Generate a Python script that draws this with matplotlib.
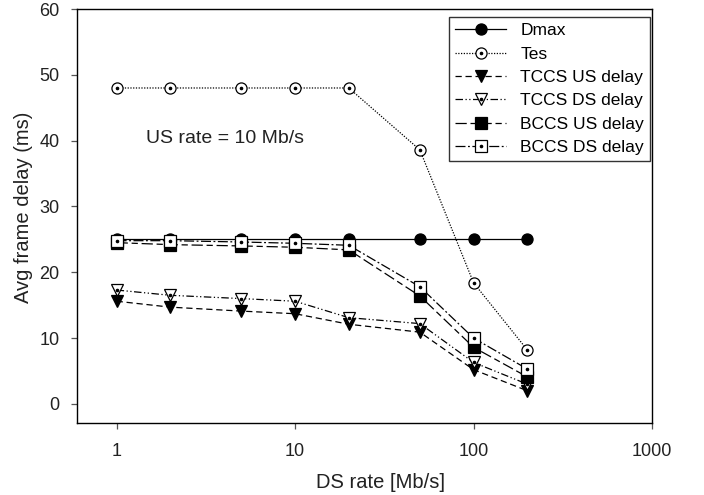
import matplotlib
matplotlib.use("Agg")
import matplotlib.pyplot as plt
from matplotlib.lines import Line2D
from matplotlib.legend_handler import HandlerTuple

ds_rate = [1, 2, 5, 10, 20, 50, 100, 200]
dmax = [25, 25, 25, 25, 25, 25, 25, 25]
tes = [48, 48, 48, 48, 48, 38.6, 18.4, 8.2]
tccs_us = [15.6, 14.7, 14.1, 13.7, 12.1, 10.9, 5.2, 2.0]
tccs_ds = [17.3, 16.5, 16.0, 15.6, 13.1, 12.2, 6.3, 3.0]
bccs_us = [24.5, 24.2, 24.0, 23.8, 23.4, 16.4, 8.6, 4.1]
bccs_ds = [24.8, 24.8, 24.6, 24.4, 24.1, 17.8, 10.0, 5.3]
x_ticks = [1, 10, 100, 1000]
x_ticklabels = ["1", "10", "100", "1000"]
y_ticks = [0, 10, 20, 30, 40, 50, 60]

text_font = ['Liberation Sans', 'DejaVu Sans']

fig = plt.figure(figsize=(7.04, 4.95), dpi=100)
ax = fig.add_axes([0.1094, 0.1455, 0.8168, 0.8363])

ms = 8
series = [
    ("Dmax", dmax, '-', 'o', 'black', False),
    ("Tes", tes, (0, (1, 1.2)), 'o', 'white', True),
    ("TCCS US delay", tccs_us, (0, (5, 3)), 'v', 'black', False),
    ("TCCS DS delay", tccs_ds, (0, (6, 2, 1, 2, 1, 2)), 'v', 'white', True),
    ("BCCS US delay", bccs_us, (0, (9, 3, 5, 3)), 's', 'black', False),
    ("BCCS DS delay", bccs_ds, (0, (8, 2, 1.5, 2)), 's', 'white', True),
]
handles = []
for label, vals, ls, mk, fc, dot in series:
    ax.plot(ds_rate, vals, linestyle=ls, color='black', lw=0.9,
            marker=mk, markersize=ms, markerfacecolor=fc,
            markeredgecolor='black', markeredgewidth=0.9, zorder=3)
    h = Line2D([], [], linestyle=ls, color='black', lw=0.9,
               marker=mk, markersize=ms, markerfacecolor=fc,
               markeredgecolor='black', markeredgewidth=0.9)
    if dot:
        ax.plot(ds_rate, vals, linestyle='none', marker='o', markersize=1.6,
                color='black', zorder=4)
        hd = Line2D([], [], linestyle='none', marker='o', markersize=1.6,
                    color='black')
        handles.append((h, hd))
    else:
        handles.append(h)

ax.set_xscale('log')
ax.set_xlim(0.6, 1000)
ax.set_ylim(-2.9, 60)
ax.set_xticks(x_ticks)
ax.set_xticklabels(x_ticklabels)
ax.xaxis.set_minor_locator(matplotlib.ticker.NullLocator())
ax.set_yticks(y_ticks)
ax.tick_params(direction='out', length=4.5, width=0.9, color='#555555',
               top=False, right=False, labelsize=13)
ax.tick_params(axis='x', pad=10)
ax.tick_params(axis='y', pad=8)
for lab in ax.get_xticklabels() + ax.get_yticklabels():
    lab.set_family(text_font)
    lab.set_color('#222222')

ax.set_xlabel("DS rate [Mb/s]", fontsize=14.5, family=text_font, color='#222222')
ax.xaxis.set_label_coords(0.527, -0.121)
ax.set_ylabel("Avg frame delay (ms)", fontsize=14.5, family=text_font,
              color='#222222')
ax.yaxis.set_label_coords(-0.077, 0.52)
for s in ax.spines.values():
    s.set_linewidth(1.0)

ax.text(1.47, 40.3, "US rate = 10 Mb/s", fontsize=14, family=text_font,
        va='center', ha='left', color='#222222')

leg = ax.legend(handles, [s[0] for s in series], loc='upper right',
                bbox_to_anchor=(0.9965, 0.9807), borderaxespad=0,
                frameon=True, fancybox=False,
                edgecolor='black', prop={'family': text_font, 'size': 12.5},
                handlelength=2.94, labelspacing=0.475, borderpad=0.35,
                handletextpad=0.8,
                handler_map={tuple: HandlerTuple(ndivide=1)})
leg.get_frame().set_linewidth(1.0)

fig.savefig("out.png", dpi=100)
